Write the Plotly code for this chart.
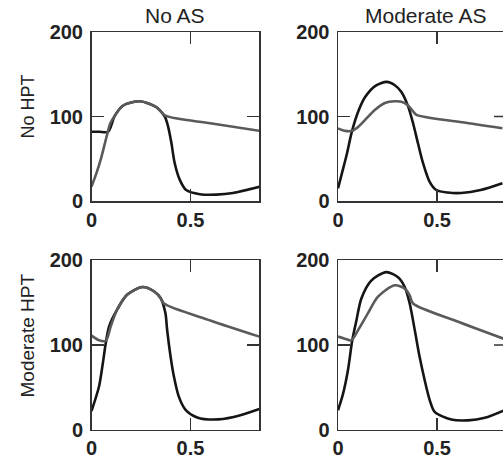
import plotly.graph_objects as go

# ---------------- data ----------------
col_titles = ["No AS", "Moderate AS"]
row_titles = ["No HPT", "Moderate HPT"]
x_ticks = [0, 0.5]
x_ticklabels = ["0", "0.5"]
y_ticks = [0, 100, 200]
y_ticklabels = ["0", "100", "200"]

# Panel 1: No AS / No HPT
p1_black_t = [0, 0.04, 0.084, 0.118, 0.16, 0.244, 0.328, 0.37, 0.387, 0.404, 0.42, 0.446, 0.478, 0.547, 0.63, 0.715, 0.85]
p1_black_v = [82, 82, 82, 101, 113, 118, 111, 100, 88, 68, 45, 25, 13, 8, 7.5, 9.5, 17]
p1_gray_t = [0, 0.025, 0.05, 0.076, 0.095, 0.118, 0.16, 0.244, 0.328, 0.373, 0.6, 0.85]
p1_gray_v = [17, 33, 52, 76, 92, 101, 113, 118, 111, 101, 92, 83]

# Panel 2: Moderate AS / No HPT
p2_black_t = [0, 0.02, 0.045, 0.07, 0.104, 0.137, 0.187, 0.246, 0.287, 0.32, 0.354, 0.379, 0.404, 0.429, 0.462, 0.496, 0.555, 0.622, 0.72, 0.83]
p2_black_v = [15, 33, 56, 82, 107, 123, 136, 141, 137, 129, 112, 92, 68, 45, 23, 13, 10, 9.5, 13, 21]
p2_gray_t = [0, 0.037, 0.07, 0.103, 0.137, 0.187, 0.237, 0.287, 0.32, 0.354, 0.379, 0.396, 0.6, 0.83]
p2_gray_v = [86, 83, 83, 88, 96, 108, 116, 118, 117.5, 113, 106, 102, 94, 86]

# Panel 3: No AS / Moderate HPT
p3_black_t = [0, 0.038, 0.055, 0.072, 0.089, 0.13, 0.181, 0.257, 0.315, 0.349, 0.373, 0.382, 0.399, 0.416, 0.441, 0.475, 0.534, 0.617, 0.718, 0.853]
p3_black_v = [22, 51, 75, 102, 122, 142, 159.5, 168.5, 163.5, 155.5, 138, 118, 87, 63, 39, 23.5, 14.5, 12, 15, 25]
p3_gray_t = [0, 0.035, 0.072, 0.097, 0.13, 0.181, 0.257, 0.315, 0.349, 0.366, 0.6, 0.853]
p3_gray_v = [111, 106, 105, 122, 142, 159.5, 168.5, 163.5, 155.5, 149, 129, 109.5]

# Panel 4: Moderate AS / Moderate HPT
p4_black_t = [0, 0.025, 0.05, 0.072, 0.093, 0.118, 0.168, 0.244, 0.303, 0.337, 0.362, 0.388, 0.412, 0.438, 0.463, 0.488, 0.572, 0.656, 0.741, 0.841]
p4_black_v = [23, 42, 70, 105.5, 129, 155, 176, 186, 180, 168.5, 149, 117, 86, 58, 35, 21, 12, 11, 14, 23]
p4_gray_t = [0, 0.034, 0.067, 0.1, 0.15, 0.202, 0.286, 0.337, 0.362, 0.379, 0.6, 0.841]
p4_gray_v = [110, 107.5, 105.5, 117, 137, 157, 170.5, 166.5, 158.5, 149, 128, 107]

panels = [
    (p1_black_t, p1_black_v, p1_gray_t, p1_gray_v),
    (p2_black_t, p2_black_v, p2_gray_t, p2_gray_v),
    (p3_black_t, p3_black_v, p3_gray_t, p3_gray_v),
    (p4_black_t, p4_black_v, p4_gray_t, p4_gray_v),
]

# ---------------- layout ----------------
W, H = 503, 461
BLACK = "#151515"
GRAY = "#5a5a5a"
FRAME = "#333333"
FONT = "Liberation Sans, Arial, sans-serif"


def px(x):
    return x / W


def py(y):
    return (H - y) / H


xdom = [[px(91.5), px(259)], [px(338), 1.0]]
xrng = [[0, 0.846], [0, 0.833]]
ydom = [[py(201), py(32)], [py(429.7), py(260.3)]]

fig = go.Figure()

for i, (bt, bv, gt, gv) in enumerate(panels):
    r, c = divmod(i, 2)
    n = i + 1
    xa = "x" if n == 1 else f"x{n}"
    ya = "y" if n == 1 else f"y{n}"
    fig.add_trace(go.Scatter(x=bt, y=bv, mode="lines",
                             line=dict(color=BLACK, width=2.6, shape="spline", smoothing=0.8),
                             xaxis=xa, yaxis=ya, showlegend=False, hoverinfo="skip"))
    fig.add_trace(go.Scatter(x=gt, y=gv, mode="lines",
                             line=dict(color=GRAY, width=2.6, shape="spline", smoothing=0.8),
                             xaxis=xa, yaxis=ya, showlegend=False, hoverinfo="skip"))

    tickfont = dict(family=FONT, size=20, color="#222222", weight="bold")
    xkey = "xaxis" if n == 1 else f"xaxis{n}"
    ykey = "yaxis" if n == 1 else f"yaxis{n}"
    fig.update_layout(**{
        xkey: dict(domain=xdom[c], range=xrng[c], anchor=ya, showline=True, linecolor=FRAME, linewidth=1.5,
                   mirror="ticks", ticks="inside", ticklen=12, tickwidth=1.5, tickcolor=FRAME,
                   tickvals=x_ticks, ticktext=x_ticklabels, tickfont=tickfont, automargin=False,
                   showgrid=False, zeroline=False, fixedrange=True),
        ykey: dict(domain=ydom[r], range=[0, 200], anchor=xa, showline=True, linecolor=FRAME, linewidth=1.5,
                   mirror=("ticks" if c == 0 else False), ticks="inside", ticklen=12, tickwidth=1.5, tickcolor=FRAME,
                   tickvals=y_ticks, ticktext=y_ticklabels, tickfont=tickfont, automargin=False,
                   ticklabelstandoff=3,
                   showgrid=False, zeroline=False, fixedrange=True),
    })
    if c == 1:
        # right-hand inner tick for the cropped panel
        fig.add_shape(type="line", xref="paper", yref=ya, x0=(W - 9) / W, x1=1.0, y0=y_ticks[1], y1=y_ticks[1],
                      line=dict(color=FRAME, width=1.5))

title_font = dict(family=FONT, size=21, color="#222222")
fig.add_annotation(text=col_titles[0], x=(xdom[0][0] + xdom[0][1]) / 2, y=py(15.5), xref="paper", yref="paper",
                   showarrow=False, xanchor="center", yanchor="middle", font=title_font)
fig.add_annotation(text=col_titles[1], x=px(425), y=py(15.5), xref="paper", yref="paper",
                   showarrow=False, xanchor="center", yanchor="middle", font=title_font)
fig.add_annotation(text=row_titles[0], x=px(27.5), y=py(107), xref="paper", yref="paper", showarrow=False,
                   textangle=-90, xanchor="center", yanchor="middle", font=dict(family=FONT, size=18, color="#222222"))
fig.add_annotation(text=row_titles[1], x=px(27.5), y=py(336), xref="paper", yref="paper", showarrow=False,
                   textangle=-90, xanchor="center", yanchor="middle", font=dict(family=FONT, size=19, color="#222222"))

fig.update_layout(width=W, height=H, margin=dict(l=0, r=0, t=0, b=0, autoexpand=False),
                  template="none", plot_bgcolor="white", paper_bgcolor="white")

fig.write_html("out.html", config={"displayModeBar": False, "staticPlot": True},
               post_script="document.body.style.margin='0';document.body.style.overflow='hidden';")
